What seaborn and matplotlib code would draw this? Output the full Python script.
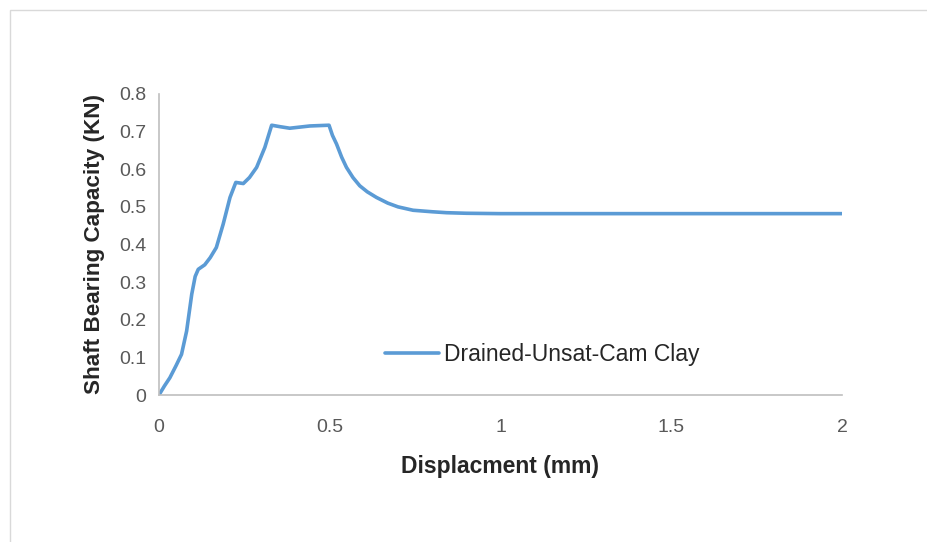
import pandas as pd
import matplotlib
matplotlib.use("Agg")
import matplotlib.pyplot as plt
import seaborn as sns
from matplotlib.patches import Rectangle

# ------------------------------------------------------------
# DATA
# ------------------------------------------------------------
displacement = [0.0, 0.016, 0.032, 0.050, 0.066, 0.081, 0.096, 0.106, 0.115,
                0.134, 0.150, 0.168, 0.188, 0.208, 0.225, 0.247, 0.265, 0.286,
                0.310, 0.330, 0.355, 0.383, 0.442, 0.498, 0.508, 0.520, 0.535,
                0.549, 0.568, 0.588, 0.610, 0.637, 0.670, 0.700, 0.744, 0.800,
                0.842, 0.900, 1.0, 1.25, 1.5, 1.75, 2.0]
capacity = [0.0, 0.024, 0.046, 0.078, 0.108, 0.170, 0.268, 0.315, 0.334,
            0.346, 0.365, 0.392, 0.454, 0.525, 0.565, 0.562, 0.578, 0.605,
            0.658, 0.717, 0.713, 0.709, 0.715, 0.717, 0.690, 0.667, 0.632,
            0.605, 0.578, 0.556, 0.540, 0.525, 0.510, 0.500, 0.491, 0.487,
            0.4845, 0.483, 0.482, 0.482, 0.482, 0.482, 0.482]
series_name = "Drained-Unsat-Cam Clay"

df = pd.DataFrame({"Displacement": displacement, "Capacity": capacity})

# ------------------------------------------------------------
# PLOT
# ------------------------------------------------------------
sns.set_style("white")
plt.rcParams["font.family"] = ["Liberation Sans", "DejaVu Sans"]

fig = plt.figure(figsize=(9.28, 5.42), dpi=100)
ax = fig.add_axes([0.1713, 0.2712, 0.7360, 0.5554])

# light frame around the chart area
fig.patches.append(Rectangle((10 / 928, -0.01), 1.0, 1 - 10 / 542 + 0.01,
                             transform=fig.transFigure, fill=False,
                             edgecolor="#d9d9d9", linewidth=1.0))

sns.lineplot(data=df, x="Displacement", y="Capacity", ax=ax, sort=False,
             color="#5b9bd5", linewidth=2.6, label=series_name)

ax.set_xlim(0, 2)
ax.set_ylim(0, 0.8)
ax.set_xticks([0, 0.5, 1, 1.5, 2])
ax.set_xticklabels(["0", "0.5", "1", "1.5", "2"])
ax.set_yticks([0, 0.1, 0.2, 0.3, 0.4, 0.5, 0.6, 0.7, 0.8])
ax.set_yticklabels(["0", "0.1", "0.2", "0.3", "0.4", "0.5", "0.6", "0.7", "0.8"])
ax.tick_params(axis="both", length=0, labelsize=14, colors="#595959")
ax.tick_params(axis="x", pad=17)
ax.tick_params(axis="y", pad=9)

for side in ["top", "right"]:
    ax.spines[side].set_visible(False)
for side in ["left", "bottom"]:
    ax.spines[side].set_color("#bfbfbf")
    ax.spines[side].set_linewidth(1.2)

ax.set_xlabel("Displacment (mm)", fontsize=16.5, fontweight="bold", labelpad=14)
ax.set_ylabel("Shaft Bearing Capacity (KN)", fontsize=16.2, fontweight="bold", labelpad=10)

ax.legend(loc="center", bbox_to_anchor=(0.561, 0.133), frameon=False,
          fontsize=16.5, handlelength=2.35, handletextpad=0.2)

fig.savefig("out.png", dpi=100)
